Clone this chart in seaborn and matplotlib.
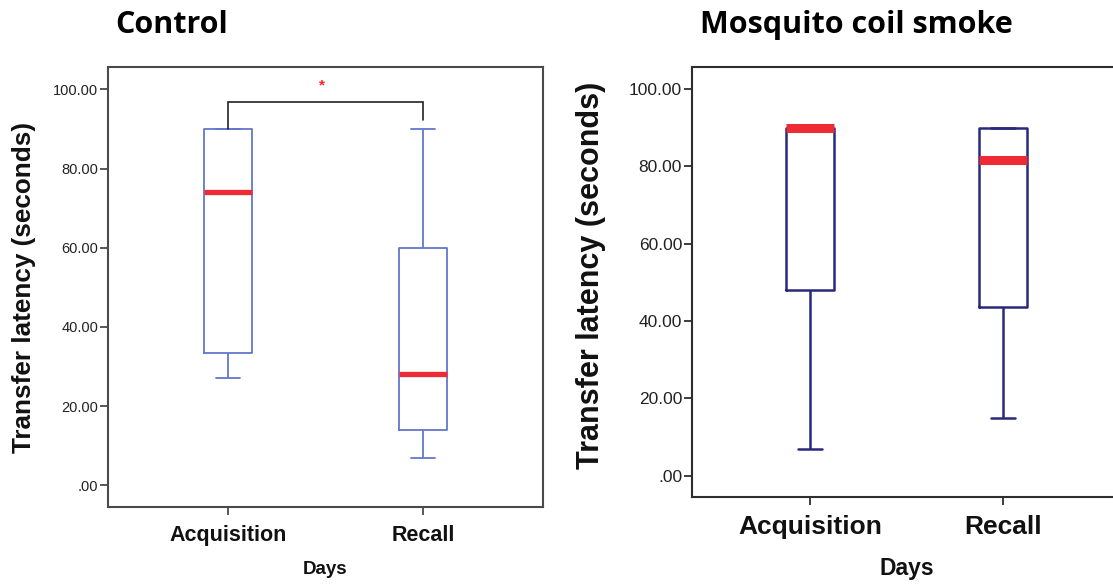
#!/usr/bin/env python3
"""
Transfer latency box plots: Control vs Mosquito coil smoke.

Two side-by-side SPSS-style box plots (Acquisition / Recall days),
saved as out.png (1113x584).
"""

import pandas as pd
import seaborn as sns
import matplotlib.pyplot as plt

# --- Data (five-number summaries: min, Q1, median, Q3, max) ---
DAYS = ["Acquisition", "Recall"]

control_acquisition = [27.0, 33.5, 74.0, 90.0, 90.0]
control_recall = [7.0, 14.0, 28.0, 60.0, 90.0]

smoke_acquisition = [7.0, 48.0, 90.0, 90.0, 90.0]
smoke_recall = [15.0, 43.5, 81.5, 90.0, 90.0]

# significance bracket on the control panel (Acquisition vs Recall)
bracket_x = [0, 0, 1, 1]
bracket_y = [90.0, 96.9, 96.9, 92.2]
star_pos = (0.48, 101.0)

ytick_values = [0, 20, 40, 60, 80, 100]
ytick_labels = [".00", "20.00", "40.00", "60.00", "80.00", "100.00"]

PANEL_TITLES = ["Control", "Mosquito coil smoke"]

MEDIAN_RED = "#ee2a35"

sns.set_theme(style="white")
plt.rcParams["font.family"] = ["Liberation Sans", "DejaVu Sans"]


def make_frame(acq, rec):
    rows = [("Acquisition", v) for v in acq] + [("Recall", v) for v in rec]
    return pd.DataFrame(rows, columns=["day", "latency"])


def draw_panel(ax, df, style):
    sns.boxplot(
        data=df, x="day", y="latency", order=DAYS, ax=ax,
        width=0.25, whis=(0, 100), fill=False, saturation=1,
        color=style["box"], linewidth=style["lw"],
        showfliers=False,
        medianprops=dict(color=MEDIAN_RED, linewidth=style["median_lw"],
                         solid_capstyle="butt"),
    )
    ax.set_xlim(-0.615, 1.615)
    ax.set_ylim(-5.5, 105.6)
    ax.set_yticks(ytick_values, ytick_labels)

    for sp in ax.spines.values():
        sp.set_visible(True)
        sp.set_color(style["spine"])
        sp.set_linewidth(1.5)

    ax.tick_params(axis="y", which="major", left=True, length=6, width=1.3,
                   color=style["spine"], labelsize=style["ytick_fs"],
                   labelcolor="#222222", pad=1)
    ax.tick_params(axis="x", which="major", bottom=True, length=6, width=1.3,
                   color=style["spine"], pad=7)
    for lab in ax.get_xticklabels():
        lab.set_fontsize(style["xtick_fs"])
        lab.set_fontweight("bold")
        lab.set_color("#111111")

    ax.set_ylabel("Transfer latency (seconds)", fontsize=style["ylabel_fs"],
                  fontweight="bold", color="#111111")
    ax.yaxis.set_label_coords(style["ylabel_x"], style["ylabel_y"])
    ax.set_xlabel("Days", fontsize=style["xlabel_fs"], fontweight="bold",
                  color="#111111")
    ax.xaxis.set_label_coords(0.5, style["xlabel_y"])
    ax.grid(False)


fig = plt.figure(figsize=(11.13, 5.84), dpi=100)
fig.patch.set_facecolor("white")

ax_left = fig.add_axes([0.0970, 0.1318, 0.3908, 0.7530])
ax_right = fig.add_axes([0.6215, 0.1490, 0.3863, 0.7358])

left_style = dict(box="#6376cc", lw=1.3, median_lw=3.8, spine="#4a4a4a",
                  ytick_fs=10.5, xtick_fs=15.5, ylabel_fs=18.8, xlabel_fs=13.5,
                  ylabel_x=-0.165, ylabel_y=0.5, xlabel_y=-0.122)
right_style = dict(box="#28297a", lw=1.8, median_lw=6.5, spine="#2e2e2e",
                   ytick_fs=12.5, xtick_fs=19, ylabel_fs=22, xlabel_fs=16.5,
                   ylabel_x=-0.2, ylabel_y=0.516, xlabel_y=-0.139)

draw_panel(ax_left, make_frame(control_acquisition, control_recall), left_style)
draw_panel(ax_right, make_frame(smoke_acquisition, smoke_recall), right_style)

# Significance bracket and star on Control panel
ax_left.plot(bracket_x, bracket_y, color="#222222", linewidth=1.2,
             solid_joinstyle="miter")
ax_left.text(star_pos[0], star_pos[1], "*", color="#ff2020", fontsize=11,
             ha="center", va="center", fontweight="bold")

# Panel titles
title_kw = dict(fontsize=22, fontweight="bold", family=["Open Sans", "DejaVu Sans"],
                color="black", va="baseline", ha="left")
fig.text(115 / 1113, 1 - 33 / 584, PANEL_TITLES[0], **title_kw)
fig.text(700 / 1113, 1 - 33 / 584, PANEL_TITLES[1], **title_kw)

fig.savefig("out.png", dpi=100, facecolor="white")
plt.close(fig)
